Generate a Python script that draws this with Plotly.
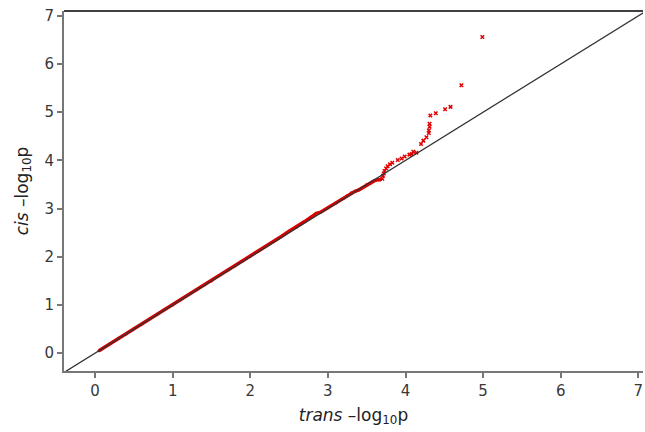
import plotly.graph_objects as go

# Dense part of the QQ plot (expected vs observed)
trans_dense = [0.05, 0.10, 0.20, 0.30, 0.40, 0.50, 0.60, 0.70, 0.80, 0.90, 1.00,
               1.10, 1.20, 1.30, 1.40, 1.50, 1.60, 1.70, 1.80, 1.90, 2.00, 2.10,
               2.20, 2.30, 2.40, 2.50, 2.60, 2.70, 2.80, 2.85, 2.90, 3.00, 3.10,
               3.20, 3.25, 3.30, 3.35, 3.40, 3.45, 3.50, 3.55, 3.60, 3.65, 3.68]
cis_dense = [0.05, 0.10, 0.20, 0.31, 0.40, 0.51, 0.60, 0.71, 0.80, 0.91, 1.00,
             1.11, 1.21, 1.31, 1.41, 1.50, 1.61, 1.71, 1.81, 1.91, 2.01, 2.11,
             2.21, 2.31, 2.42, 2.53, 2.62, 2.73, 2.84, 2.90, 2.92, 3.02, 3.11,
             3.21, 3.27, 3.33, 3.36, 3.39, 3.44, 3.50, 3.53, 3.58, 3.60, 3.60]

# Upper tail points
trans_tail = [3.70, 3.71, 3.72, 3.73, 3.75, 3.77, 3.80, 3.83, 3.90, 3.95, 3.99,
              4.05, 4.08, 4.10, 4.14, 4.20, 4.23, 4.27, 4.30, 4.30, 4.31, 4.31,
              4.32, 4.39, 4.51, 4.58, 4.72, 4.99]
cis_tail = [3.62, 3.68, 3.73, 3.78, 3.83, 3.88, 3.92, 3.95, 4.01, 4.04, 4.08,
            4.12, 4.13, 4.18, 4.16, 4.34, 4.41, 4.48, 4.57, 4.62, 4.70, 4.76,
            4.93, 4.98, 5.06, 5.11, 5.56, 6.56]

diag = [-0.4, 7.1]
tick_vals = [0, 1, 2, 3, 4, 5, 6, 7]

fig = go.Figure()
fig.add_trace(go.Scatter(x=trans_dense, y=cis_dense, mode="lines+markers",
                         line=dict(color="#d40000", width=3.5),
                         marker=dict(color="#e00000", size=3),
                         hoverinfo="skip", showlegend=False))
fig.add_trace(go.Scatter(x=trans_tail, y=cis_tail, mode="markers",
                         marker=dict(color="#e00000", size=3.5, symbol="x-thin",
                                     line=dict(color="#e00000", width=1.5)),
                         showlegend=False))
fig.add_trace(go.Scatter(x=diag, y=diag, mode="lines",
                         line=dict(color="#333333", width=1.3),
                         hoverinfo="skip", showlegend=False))

axis_font = dict(family="DejaVu Sans", size=15, color="#383838")
title_font = dict(family="DejaVu Sans", size=17, color="#222222")
fig.update_layout(
    width=645, height=432,
    margin=dict(l=64, r=2, t=11, b=61),
    paper_bgcolor="white", plot_bgcolor="white",
    xaxis=dict(range=[-0.4, 7.06], tickvals=tick_vals, ticks="outside",
               ticklen=5, tickwidth=1.5, tickcolor="#777777",
               showline=True, linecolor="#777777", linewidth=2,
               showgrid=False, zeroline=False, tickfont=axis_font,
               automargin=False,
               title=dict(text="<i>trans</i> \u2013log<sub>10</sub>p",
                          font=title_font, standoff=10)),
    yaxis=dict(range=[-0.37, 7.1], tickvals=tick_vals, ticks="outside",
               ticklen=5, tickwidth=1.5, tickcolor="#777777",
               showline=True, linecolor="#777777", linewidth=2,
               showgrid=False, zeroline=False, tickfont=axis_font,
               automargin=False,
               title=dict(text="<i>cis</i> \u2013log<sub>10</sub>p",
                          font=title_font, standoff=12)),
    shapes=[dict(type="line", xref="paper", yref="paper", x0=0, x1=1, y0=1, y1=1,
                 line=dict(color="black", width=1.5))],
)

fig.write_html("out.html",
               config={"displayModeBar": False},
               post_script="document.body.style.margin='0';document.body.style.overflow='hidden';")
